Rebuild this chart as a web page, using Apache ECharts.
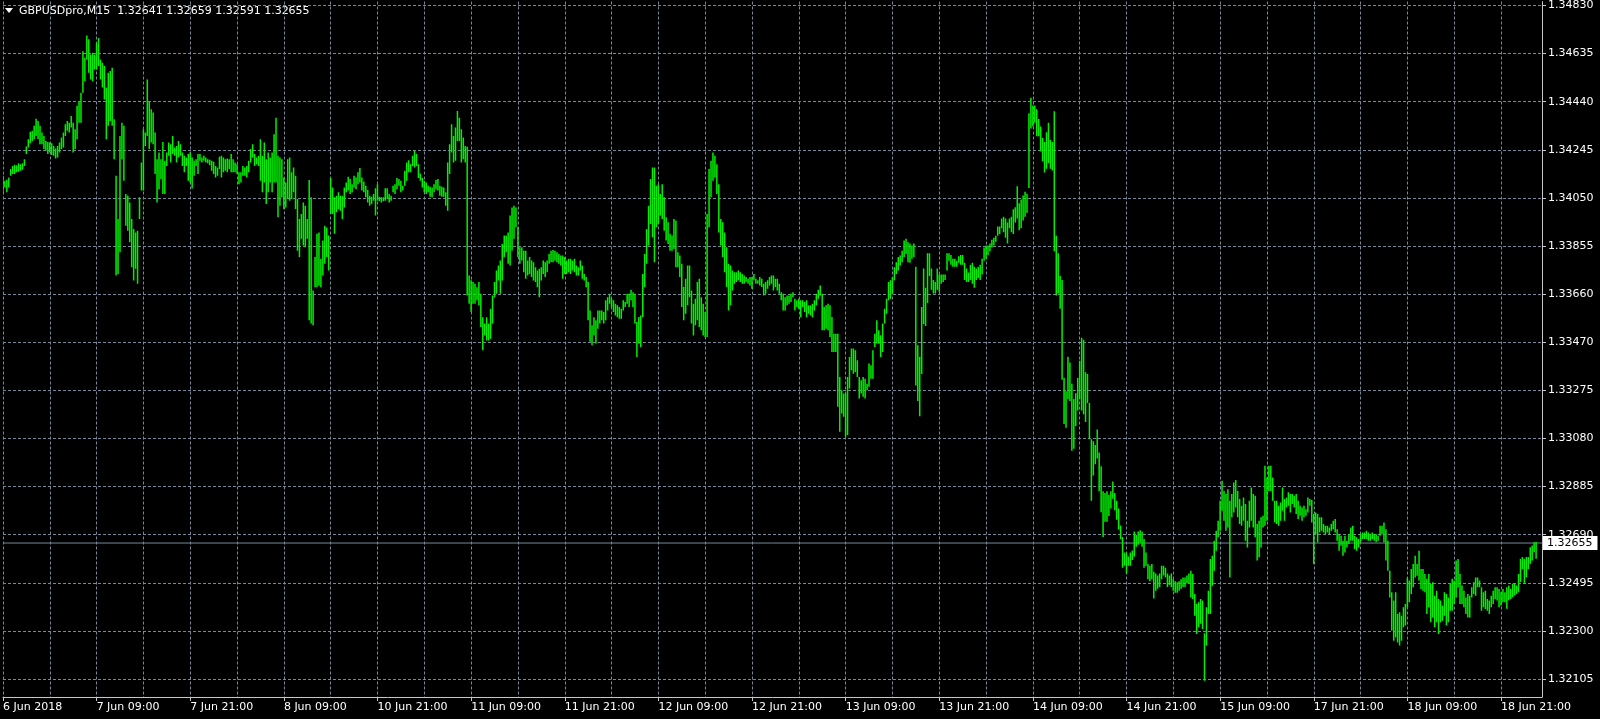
<!DOCTYPE html>
<html><head><meta charset="utf-8">
<script src="https://cdn.jsdelivr.net/npm/echarts@6/dist/echarts.min.js"></script>
<style>html,body{margin:0;padding:0;background:#000;}#c{width:1600px;height:719px;}</style>
</head><body><div id="c"></div>
<script>
const symbolName = 'GBPUSDpro,M15';
const lastOHLC = [1.32641, 1.32659, 1.32591, 1.32655];
const lastPrice = 1.32655;
const xTickIndex = [0,48,96,144,192,240,288,336,384,432,480,528,576,624,672,720,768];
const xTickLabels = ['6 Jun 2018','7 Jun 09:00','7 Jun 21:00','8 Jun 09:00','10 Jun 21:00','11 Jun 09:00','11 Jun 21:00','12 Jun 09:00','12 Jun 21:00','13 Jun 09:00','13 Jun 21:00','14 Jun 09:00','14 Jun 21:00','15 Jun 09:00','17 Jun 21:00','18 Jun 09:00','18 Jun 21:00'];
const yTickLabels = ['1.32105','1.32300','1.32495','1.32690','1.32885','1.33080','1.33275','1.33470','1.33660','1.33855','1.34050','1.34245','1.34440','1.34635','1.34830'];

const barHigh = [
1.34141,1.34121,1.34125,1.34134,1.34168,1.34181,1.34186,1.34184,1.34192,1.34188,
1.34192,1.34208,1.34259,1.34289,1.34319,1.34323,1.34343,1.34372,1.34363,1.34343,
1.34316,1.34302,1.34282,1.34278,1.34276,1.34273,1.34262,1.34251,1.34262,1.34276,
1.34296,1.34316,1.34350,1.34363,1.34356,1.34383,1.34356,1.34329,1.34424,1.34440,
1.34477,1.34645,1.34619,1.34709,1.34693,1.34632,1.34639,1.34632,1.34679,1.34699,
1.34612,1.34598,1.34585,1.34498,1.34558,1.34565,1.34578,1.34370,1.34141,1.33966,
1.34302,1.34356,1.34343,1.34067,1.34060,1.34033,1.33966,1.33926,1.33912,1.33919,
1.34054,1.34195,1.34329,1.34316,1.34531,1.34440,1.34410,1.34397,1.34316,1.34208,
1.34235,1.34208,1.34278,1.34202,1.34235,1.34276,1.34269,1.34302,1.34255,1.34262,
1.34282,1.34269,1.34235,1.34222,1.34215,1.34229,1.34235,1.34215,1.34202,1.34208,
1.34229,1.34229,1.34215,1.34222,1.34215,1.34208,1.34206,1.34202,1.34198,1.34181,
1.34175,1.34218,1.34222,1.34215,1.34208,1.34211,1.34208,1.34229,1.34208,1.34195,
1.34188,1.34155,1.34155,1.34181,1.34175,1.34181,1.34202,1.34249,1.34269,1.34229,
1.34215,1.34222,1.34289,1.34222,1.34276,1.34208,1.34235,1.34215,1.34235,1.34309,
1.34376,1.34222,1.34215,1.34208,1.34134,1.34114,1.34208,1.34215,1.34155,1.34175,
1.34141,1.34047,1.33966,1.33986,1.34033,1.34020,1.33966,1.34124,1.34054,1.33677,
1.33812,1.33906,1.33912,1.33805,1.33879,1.33939,1.33932,1.33899,1.34132,1.34094,
1.34054,1.34060,1.34074,1.34060,1.34060,1.34094,1.34114,1.34137,1.34128,1.34107,
1.34141,1.34134,1.34155,1.34172,1.34134,1.34118,1.34101,1.34083,1.34060,1.34056,
1.34067,1.34091,1.34107,1.34056,1.34054,1.34054,1.34091,1.34091,1.34067,1.34060,
1.34101,1.34107,1.34132,1.34128,1.34121,1.34101,1.34161,1.34195,1.34204,1.34188,
1.34222,1.34242,1.34229,1.34188,1.34150,1.34132,1.34121,1.34114,1.34101,1.34097,
1.34094,1.34107,1.34124,1.34128,1.34101,1.34097,1.34094,1.34074,1.34195,1.34269,
1.34350,1.34302,1.34336,1.34403,1.34376,1.34329,1.34296,1.34262,1.34258,1.33738,
1.33718,1.33711,1.33704,1.33690,1.33711,1.33664,1.33569,1.33543,1.33569,1.33543,
1.33603,1.33657,1.33711,1.33758,1.33778,1.33798,1.33865,1.33899,1.33899,1.33912,
1.33980,1.34013,1.34020,1.34013,1.33933,1.33852,1.33852,1.33838,1.33838,1.33798,
1.33812,1.33798,1.33791,1.33771,1.33758,1.33765,1.33771,1.33798,1.33791,1.33798,
1.33825,1.33838,1.33841,1.33838,1.33832,1.33825,1.33818,1.33818,1.33812,1.33798,
1.33805,1.33805,1.33798,1.33805,1.33778,1.33771,1.33798,1.33778,1.33744,1.33731,
1.33711,1.33596,1.33536,1.33569,1.33556,1.33596,1.33596,1.33596,1.33590,1.33637,
1.33650,1.33664,1.33643,1.33637,1.33623,1.33617,1.33610,1.33603,1.33637,1.33630,
1.33664,1.33664,1.33680,1.33670,1.33664,1.33549,1.33570,1.33576,1.33744,1.33825,
1.33926,1.34020,1.34128,1.34175,1.34175,1.34101,1.34107,1.34067,1.34107,1.34054,
1.33973,1.33953,1.33906,1.33899,1.33966,1.33960,1.33832,1.33818,1.33785,1.33691,
1.33724,1.33778,1.33778,1.33677,1.33623,1.33643,1.33711,1.33724,1.33650,1.33623,
1.33590,1.33986,1.34168,1.34202,1.34235,1.34222,1.34188,1.34107,1.33966,1.33953,
1.33912,1.33852,1.33785,1.33778,1.33758,1.33751,1.33751,1.33758,1.33751,1.33744,
1.33738,1.33731,1.33724,1.33731,1.33731,1.33744,1.33724,1.33718,1.33731,1.33724,
1.33704,1.33711,1.33718,1.33731,1.33738,1.33738,1.33724,1.33724,1.33704,1.33670,
1.33664,1.33650,1.33657,1.33657,1.33664,1.33670,1.33643,1.33637,1.33643,1.33637,
1.33637,1.33630,1.33637,1.33617,1.33617,1.33623,1.33637,1.33664,1.33680,1.33697,
1.33664,1.33610,1.33617,1.33623,1.33617,1.33570,1.33502,1.33502,1.33502,1.33327,
1.33273,1.33260,1.33260,1.33327,1.33408,1.33442,1.33442,1.33435,1.33395,1.33327,
1.33314,1.33327,1.33320,1.33300,1.33381,1.33374,1.33435,1.33502,1.33556,1.33516,
1.33496,1.33543,1.33603,1.33643,1.33711,1.33718,1.33731,1.33771,1.33791,1.33812,
1.33818,1.33838,1.33879,1.33886,1.33872,1.33867,1.33859,1.33867,1.33773,1.33455,
1.33409,1.33610,1.33766,1.33688,1.33828,1.33828,1.33766,1.33719,1.33711,1.33766,
1.33742,1.33742,1.33742,1.33742,1.33828,1.33828,1.33820,1.33805,1.33805,1.33797,
1.33815,1.33820,1.33820,1.33789,1.33766,1.33750,1.33781,1.33789,1.33773,1.33766,
1.33773,1.33781,1.33805,1.33851,1.33859,1.33859,1.33867,1.33882,1.33890,1.33898,
1.33936,1.33936,1.33968,1.33975,1.33968,1.33952,1.33968,1.33975,1.34006,1.34014,
1.34099,1.34030,1.34045,1.34061,1.34076,1.34068,1.34394,1.34457,1.34425,1.34425,
1.34410,1.34371,1.34340,1.34294,1.34278,1.34317,1.34356,1.34286,1.34278,1.34402,
1.33898,1.33828,1.33735,1.33719,1.33323,1.33269,1.33409,1.33385,1.33300,1.33238,
1.33261,1.33323,1.33393,1.33486,1.33478,1.33346,1.33339,1.33222,1.33075,1.33067,
1.33052,1.33114,1.33021,1.32966,1.32865,1.32857,1.32865,1.32850,1.32865,1.32904,
1.32857,1.32826,1.32795,1.32726,1.32679,1.32617,1.32617,1.32601,1.32617,1.32625,
1.32702,1.32687,1.32702,1.32707,1.32702,1.32671,1.32617,1.32570,1.32563,1.32570,
1.32539,1.32532,1.32524,1.32532,1.32563,1.32563,1.32555,1.32532,1.32524,1.32532,
1.32508,1.32500,1.32496,1.32500,1.32508,1.32516,1.32516,1.32524,1.32532,1.32543,
1.32530,1.32449,1.32408,1.32415,1.32429,1.32422,1.32290,1.32395,1.32462,1.32590,
1.32604,1.32664,1.32705,1.32745,1.32826,1.32907,1.32866,1.32853,1.32873,1.32826,
1.32853,1.32900,1.32910,1.32866,1.32833,1.32806,1.32839,1.32813,1.32745,1.32826,
1.32880,1.32853,1.32846,1.32732,1.32745,1.32759,1.32765,1.32968,1.32920,1.32968,
1.32968,1.32920,1.32826,1.32826,1.32806,1.32819,1.32880,1.32833,1.32839,1.32860,
1.32853,1.32853,1.32846,1.32853,1.32826,1.32806,1.32799,1.32806,1.32792,1.32839,
1.32833,1.32829,1.32772,1.32779,1.32772,1.32759,1.32759,1.32732,1.32725,1.32725,
1.32718,1.32732,1.32745,1.32752,1.32711,1.32691,1.32684,1.32664,1.32684,1.32664,
1.32691,1.32718,1.32725,1.32684,1.32678,1.32671,1.32691,1.32698,1.32698,1.32705,
1.32698,1.32691,1.32698,1.32691,1.32691,1.32684,1.32725,1.32725,1.32738,1.32711,
1.32664,1.32543,1.32456,1.32422,1.32456,1.32368,1.32375,1.32361,1.32395,1.32408,
1.32516,1.32503,1.32550,1.32570,1.32604,1.32570,1.32624,1.32550,1.32550,1.32530,
1.32510,1.32530,1.32489,1.32496,1.32442,1.32462,1.32429,1.32422,1.32402,1.32456,
1.32449,1.32435,1.32489,1.32510,1.32503,1.32584,1.32590,1.32530,1.32483,1.32462,
1.32435,1.32449,1.32442,1.32476,1.32496,1.32516,1.32516,1.32503,1.32476,1.32456,
1.32462,1.32429,1.32422,1.32442,1.32462,1.32476,1.32476,1.32469,1.32456,1.32469,
1.32456,1.32476,1.32483,1.32470,1.32490,1.32490,1.32483,1.32530,1.32591,1.32598,
1.32591,1.32598,1.32598,1.32638,1.32645,1.32658,1.32659
];

const barLow = [
1.34067,1.34094,1.34074,1.34094,1.34141,1.34148,1.34148,1.34155,1.34157,1.34161,
1.34165,1.34181,1.34229,1.34255,1.34273,1.34282,1.34289,1.34302,1.34289,1.34269,
1.34269,1.34249,1.34242,1.34229,1.34235,1.34225,1.34222,1.34211,1.34215,1.34235,
1.34249,1.34255,1.34302,1.34323,1.34316,1.34336,1.34235,1.34249,1.34289,1.34356,
1.34356,1.34477,1.34524,1.34612,1.34558,1.34531,1.34524,1.34571,1.34571,1.34585,
1.34531,1.34498,1.34450,1.34289,1.34343,1.34363,1.34343,1.34208,1.33738,1.33744,
1.33832,1.34208,1.34121,1.33939,1.33919,1.33872,1.33771,1.33717,1.33765,1.33704,
1.33966,1.34081,1.34081,1.34262,1.34302,1.34249,1.34276,1.34269,1.34148,1.34033,
1.34087,1.34128,1.34067,1.34067,1.34181,1.34222,1.34195,1.34229,1.34222,1.34195,
1.34215,1.34222,1.34181,1.34155,1.34181,1.34121,1.34114,1.34090,1.34141,1.34181,
1.34148,1.34202,1.34195,1.34202,1.34195,1.34192,1.34184,1.34161,1.34148,1.34134,
1.34141,1.34168,1.34134,1.34155,1.34161,1.34155,1.34168,1.34155,1.34155,1.34155,
1.34148,1.34107,1.34114,1.34141,1.34141,1.34134,1.34155,1.34195,1.34215,1.34181,
1.34188,1.34181,1.34121,1.34074,1.34114,1.34027,1.34074,1.34114,1.34074,1.34114,
1.34114,1.33973,1.34020,1.34054,1.34007,1.34013,1.34047,1.34040,1.34047,1.34074,
1.34007,1.33838,1.33812,1.33886,1.33859,1.33852,1.33886,1.33556,1.33543,1.33536,
1.33690,1.33690,1.33697,1.33690,1.33738,1.33785,1.33812,1.33758,1.33986,1.33986,
1.33906,1.33993,1.34007,1.34000,1.33966,1.34013,1.34074,1.34081,1.34067,1.34074,
1.34094,1.34087,1.34107,1.34114,1.34081,1.34074,1.34054,1.34033,1.34020,1.34027,
1.34040,1.33980,1.34040,1.34038,1.34033,1.34038,1.34040,1.34047,1.34033,1.34040,
1.34074,1.34067,1.34087,1.34101,1.34074,1.34081,1.34101,1.34121,1.34155,1.34155,
1.34181,1.34175,1.34181,1.34132,1.34121,1.34094,1.34074,1.34067,1.34074,1.34056,
1.34054,1.34074,1.34087,1.34081,1.34060,1.34056,1.34056,1.34020,1.34000,1.34148,
1.34235,1.34195,1.34202,1.34282,1.34282,1.34195,1.34208,1.34195,1.33657,1.33623,
1.33590,1.33623,1.33623,1.33637,1.33617,1.33529,1.33435,1.33496,1.33475,1.33475,
1.33482,1.33543,1.33650,1.33664,1.33717,1.33664,1.33717,1.33812,1.33832,1.33785,
1.33778,1.33839,1.33886,1.33933,1.33812,1.33785,1.33798,1.33751,1.33724,1.33738,
1.33744,1.33731,1.33717,1.33711,1.33690,1.33650,1.33717,1.33744,1.33731,1.33751,
1.33785,1.33791,1.33791,1.33798,1.33791,1.33785,1.33778,1.33724,1.33744,1.33744,
1.33751,1.33744,1.33758,1.33751,1.33738,1.33738,1.33758,1.33724,1.33717,1.33690,
1.33556,1.33469,1.33455,1.33496,1.33462,1.33522,1.33543,1.33556,1.33543,1.33556,
1.33596,1.33623,1.33610,1.33590,1.33576,1.33569,1.33563,1.33563,1.33596,1.33610,
1.33623,1.33610,1.33637,1.33610,1.33543,1.33408,1.33462,1.33448,1.33570,1.33691,
1.33785,1.33859,1.33946,1.33892,1.33791,1.33933,1.33946,1.33980,1.33966,1.33919,
1.33879,1.33865,1.33838,1.33838,1.33845,1.33771,1.33771,1.33731,1.33610,1.33556,
1.33583,1.33617,1.33650,1.33543,1.33495,1.33536,1.33556,1.33529,1.33516,1.33495,
1.33489,1.33489,1.33933,1.34054,1.34121,1.34134,1.34067,1.33912,1.33859,1.33812,
1.33751,1.33691,1.33596,1.33617,1.33677,1.33704,1.33711,1.33718,1.33711,1.33704,
1.33704,1.33711,1.33704,1.33697,1.33684,1.33718,1.33704,1.33704,1.33697,1.33691,
1.33657,1.33664,1.33684,1.33697,1.33704,1.33677,1.33691,1.33677,1.33664,1.33637,
1.33596,1.33596,1.33617,1.33623,1.33630,1.33650,1.33596,1.33610,1.33603,1.33569,
1.33610,1.33590,1.33569,1.33583,1.33576,1.33569,1.33596,1.33617,1.33643,1.33657,
1.33516,1.33516,1.33522,1.33516,1.33489,1.33428,1.33428,1.33428,1.33206,1.33105,
1.33179,1.33166,1.33085,1.33092,1.33280,1.33354,1.33340,1.33347,1.33327,1.33240,
1.33260,1.33247,1.33240,1.33273,1.33287,1.33320,1.33320,1.33448,1.33462,1.33462,
1.33408,1.33428,1.33543,1.33583,1.33637,1.33643,1.33664,1.33718,1.33744,1.33758,
1.33778,1.33791,1.33812,1.33825,1.33791,1.33789,1.33805,1.33812,1.33292,1.33230,
1.33168,1.33339,1.33541,1.33533,1.33626,1.33735,1.33680,1.33665,1.33665,1.33680,
1.33672,1.33704,1.33711,1.33719,1.33758,1.33797,1.33781,1.33773,1.33773,1.33773,
1.33789,1.33781,1.33781,1.33719,1.33711,1.33711,1.33719,1.33704,1.33688,1.33719,
1.33727,1.33719,1.33742,1.33797,1.33805,1.33820,1.33836,1.33851,1.33859,1.33874,
1.33898,1.33905,1.33929,1.33913,1.33890,1.33867,1.33929,1.33913,1.33905,1.33952,
1.33968,1.33921,1.33929,1.33960,1.33975,1.33991,1.34092,1.34332,1.34340,1.34356,
1.34301,1.34301,1.34239,1.34200,1.34154,1.34169,1.34193,1.34169,1.34162,1.33836,
1.33657,1.33665,1.33603,1.33316,1.33137,1.33121,1.33238,1.33230,1.33028,1.33036,
1.33129,1.33191,1.33238,1.33191,1.33176,1.33145,1.33222,1.33075,1.32826,1.32928,
1.32974,1.32997,1.32865,1.32780,1.32679,1.32741,1.32741,1.32764,1.32795,1.32834,
1.32788,1.32749,1.32710,1.32671,1.32555,1.32563,1.32532,1.32563,1.32563,1.32586,
1.32601,1.32640,1.32648,1.32656,1.32640,1.32555,1.32563,1.32508,1.32500,1.32508,
1.32431,1.32462,1.32470,1.32477,1.32508,1.32524,1.32516,1.32477,1.32485,1.32477,
1.32462,1.32454,1.32454,1.32462,1.32470,1.32477,1.32477,1.32493,1.32493,1.32435,
1.32429,1.32361,1.32287,1.32314,1.32328,1.32307,1.32098,1.32240,1.32368,1.32368,
1.32482,1.32543,1.32624,1.32678,1.32705,1.32786,1.32745,1.32705,1.32718,1.32516,
1.32759,1.32779,1.32799,1.32759,1.32732,1.32725,1.32745,1.32664,1.32637,1.32718,
1.32745,1.32718,1.32678,1.32584,1.32597,1.32637,1.32718,1.32725,1.32745,1.32866,
1.32866,1.32826,1.32738,1.32732,1.32725,1.32745,1.32786,1.32745,1.32799,1.32806,
1.32779,1.32813,1.32799,1.32772,1.32752,1.32765,1.32745,1.32759,1.32765,1.32779,
1.32806,1.32738,1.32570,1.32691,1.32658,1.32698,1.32705,1.32698,1.32691,1.32698,
1.32691,1.32705,1.32711,1.32698,1.32664,1.32624,1.32644,1.32604,1.32617,1.32637,
1.32651,1.32664,1.32664,1.32631,1.32624,1.32637,1.32658,1.32671,1.32671,1.32671,
1.32664,1.32664,1.32671,1.32664,1.32658,1.32664,1.32684,1.32691,1.32658,1.32584,
1.32543,1.32435,1.32301,1.32260,1.32274,1.32253,1.32240,1.32260,1.32314,1.32321,
1.32395,1.32415,1.32449,1.32476,1.32516,1.32523,1.32503,1.32469,1.32462,1.32456,
1.32368,1.32395,1.32334,1.32354,1.32314,1.32334,1.32287,1.32334,1.32341,1.32361,
1.32321,1.32334,1.32381,1.32381,1.32408,1.32435,1.32476,1.32408,1.32408,1.32395,
1.32368,1.32354,1.32354,1.32435,1.32449,1.32442,1.32476,1.32476,1.32381,1.32395,
1.32388,1.32381,1.32368,1.32395,1.32408,1.32429,1.32422,1.32395,1.32402,1.32415,
1.32415,1.32389,1.32423,1.32429,1.32436,1.32443,1.32449,1.32456,1.32497,1.32550,
1.32490,1.32517,1.32550,1.32571,1.32584,1.32618,1.32591
];

// ---------- build ----------
const FONT = 'DejaVu Sans';
const slotCount = 790;
const slots = [];
for (let i = 0; i < slotCount; i++) slots.push(String(i));
const labelMap = {};
xTickIndex.forEach((idx, k) => { labelMap[idx] = xTickLabels[k]; });

const yFirst = parseFloat(yTickLabels[0]);
const yLast = parseFloat(yTickLabels[yTickLabels.length - 1]);
const yStep = (yLast - yFirst) / (yTickLabels.length - 1);
const yTickValues = yTickLabels.map((_, k) => yFirst + k * yStep);
const yMin = 1.32032, yMax = 1.34846;

const bars = barHigh.map((h, i) => [i, h, barLow[i]]);
const priceLine = [[0, lastPrice], [slotCount - 1, lastPrice]];

const chart = echarts.init(document.getElementById('c'), null, { renderer: 'canvas' });
chart.setOption({
  backgroundColor: '#000000',
  animation: false,
  grid: { left: 1, right: 58, top: 0, bottom: 22, containLabel: false },
  graphic: [
    { type: 'polygon', shape: { points: [[5, 8], [13, 8], [9, 13]] }, style: { fill: '#ffffff' } },
    { type: 'text', x: 19, y: 11, style: { text: symbolName + '  ' + lastOHLC.map(v => v.toFixed(5)).join(' '), fill: '#ffffff', font: '11px "' + FONT + '"', verticalAlign: 'middle' } }
  ],
  xAxis: {
    type: 'category', data: slots, boundaryGap: false,
    axisLine: { show: true, lineStyle: { color: '#c8c8c8', width: 1 } },
    axisTick: { show: true, length: 4, interval: (i) => labelMap[i] !== undefined, lineStyle: { color: '#c8c8c8' } },
    axisLabel: {
      interval: (i) => labelMap[i] !== undefined,
      formatter: (v) => labelMap[Number(v)] || '',
      color: '#ffffff', fontFamily: FONT, fontSize: 11, align: 'left', margin: 5
    },
    splitLine: { show: true, interval: (i) => i % 24 === 0, lineStyle: { color: '#778899', width: 1, type: [3, 2] } }
  },
  yAxis: {
    type: 'value', position: 'right', min: yMin, max: yMax,
    axisLine: { show: true, lineStyle: { color: '#c8c8c8', width: 1 } },
    axisTick: { show: true, length: 4, customValues: yTickValues, lineStyle: { color: '#c8c8c8' } },
    axisLabel: {
      customValues: yTickValues,
      formatter: (v) => yTickLabels[Math.round((v - yFirst) / yStep)],
      color: '#ffffff', fontFamily: FONT, fontSize: 11, margin: 6
    },
    splitLine: { show: true, lineStyle: { color: '#778899', width: 1, type: [3, 2] } }
  },
  series: [{
    type: 'custom',
    data: bars,
    encode: { x: 0, y: [1, 2] },
    clip: true,
    z: 3,
    renderItem: (params, api) => {
      const top = api.coord([api.value(0), api.value(1)]);
      const bot = api.coord([api.value(0), api.value(2)]);
      return {
        type: 'rect',
        shape: { x: top[0] - 0.8, y: top[1], width: 1.5, height: Math.max(bot[1] - top[1], 1) },
        style: { fill: '#00f000' }
      };
    }
  }, {
    type: 'line',
    data: priceLine,
    silent: true,
    z: 2,
    symbol: 'none',
    showSymbol: false,
    lineStyle: { color: '#778899', width: 1 },
    endLabel: {
      show: true, distance: 1,
      formatter: () => lastPrice.toFixed(5),
      backgroundColor: '#ffffff', color: '#000000',
      fontFamily: FONT, fontSize: 11, lineHeight: 12, padding: [1, 5, 1, 4]
    }
  }]
});
</script>
</body></html>
